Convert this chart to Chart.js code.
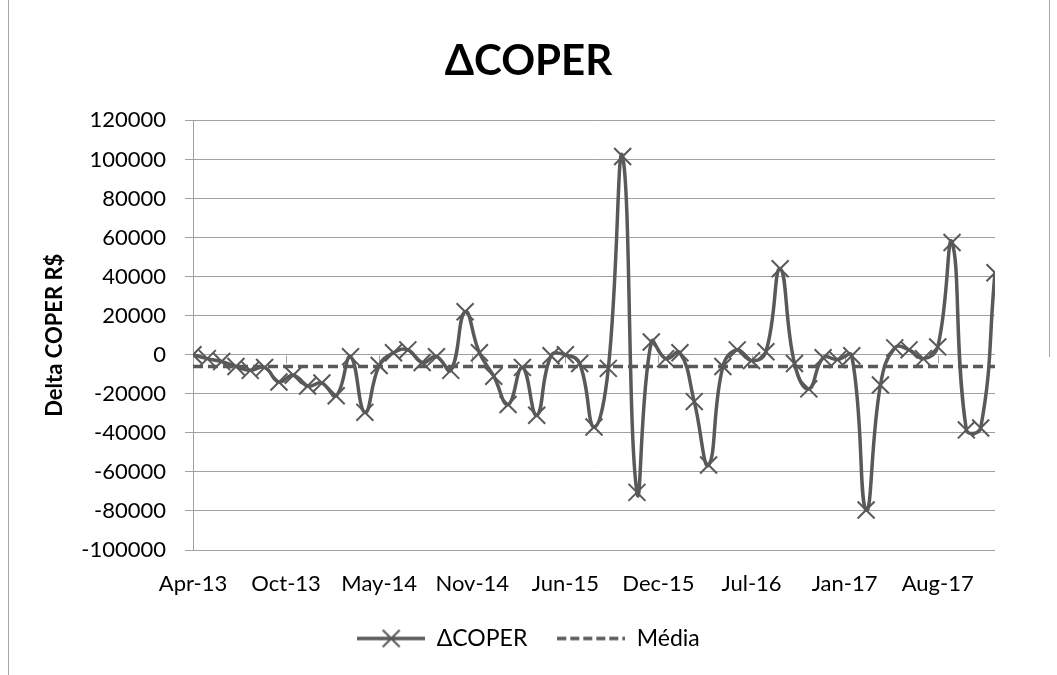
<!DOCTYPE html>
<html><head><meta charset="utf-8">
<script src="https://cdn.jsdelivr.net/npm/chart.js@4/dist/chart.umd.min.js"></script>
<style>html,body{margin:0;padding:0;background:#fff}canvas{display:block}</style>
</head><body>
<canvas id="c" width="1057" height="675"></canvas>
<script>
const months = [
 'Apr-13','May-13','Jun-13','Jul-13','Aug-13','Sep-13','Oct-13','Nov-13','Dec-13',
 'Jan-14','Feb-14','Mar-14','Apr-14','May-14','Jun-14','Jul-14','Aug-14','Sep-14','Oct-14','Nov-14','Dec-14',
 'Jan-15','Feb-15','Mar-15','Apr-15','May-15','Jun-15','Jul-15','Aug-15','Sep-15','Oct-15','Nov-15','Dec-15',
 'Jan-16','Feb-16','Mar-16','Apr-16','May-16','Jun-16','Jul-16','Aug-16','Sep-16','Oct-16','Nov-16','Dec-16',
 'Jan-17','Feb-17','Mar-17','Apr-17','May-17','Jun-17','Jul-17','Aug-17','Sep-17','Oct-17','Nov-17','Dec-17'
];
const coperValues = [
 0, -2000, -3500, -6000, -8000, -6500, -14000, -10500, -16000, -14500,
 -21000, -1000, -29500, -5500, 1000, 2500, -4000, -1000, -8000, 22000,
 1000, -11000, -25500, -6500, -31000, -500, 0, -4500, -37000, -7000,
 101500, -70500, 6500, -2000, 1000, -24000, -56500, -6000, 2500, -3000,
 1500, 44000, -4500, -17500, -1500, -2500, -500, -79500, -15500, 3500,
 2500, -2000, 4000, 57500, -38500, -37500, 42000
];
const MEDIA_VALUE = -6000;
const mediaValues = months.map(() => MEDIA_VALUE);
const tickLabels = ['Apr-13','Oct-13','May-14','Nov-14','Jun-15','Dec-15','Jul-16','Jan-17','Aug-17'];
const TICK_STEP_MONTHS = 6.5;
const yTicks = [-100000,-80000,-60000,-40000,-20000,0,20000,40000,60000,80000,100000,120000];
const seriesNames = ['\u0394COPER', 'M\u00e9dia'];

const FONT = 'Lato';
const SERIES = '#595959';
const GRID = '#a0a0a0';

function makeIcon(kind) {
  const c = document.createElement('canvas');
  c.width = 68; c.height = 24;
  const g = c.getContext('2d');
  g.strokeStyle = SERIES; g.lineWidth = 3.5;
  if (kind === 'dash') g.setLineDash([9, 4]);
  g.beginPath(); g.moveTo(0, 12); g.lineTo(68, 12); g.stroke();
  if (kind === 'cross') {
    g.setLineDash([]); g.lineWidth = 2;
    const r = 8.5, cx = 34, cy = 12;
    g.beginPath();
    g.moveTo(cx - r, cy - r); g.lineTo(cx + r, cy + r);
    g.moveTo(cx + r, cy - r); g.lineTo(cx - r, cy + r);
    g.stroke();
  }
  return c;
}
const icons = [makeIcon('cross'), makeIcon('dash')];

const framePlugin = {
  id: 'frame',
  beforeDraw(chart) {
    const ctx = chart.ctx;
    ctx.save();
    ctx.fillStyle = '#fff';
    ctx.fillRect(0, 0, chart.width, chart.height);
    ctx.strokeStyle = '#a6a6a6'; ctx.lineWidth = 1;
    ctx.beginPath();
    ctx.moveTo(8.5, 0); ctx.lineTo(8.5, chart.height);
    ctx.moveTo(1049.5, 0); ctx.lineTo(1049.5, 357);
    ctx.stroke();
    ctx.restore();
  }
};
const zeroTicksPlugin = {
  id: 'zeroTicks',
  beforeDatasetsDraw(chart) {
    const xs = chart.scales.x, ys = chart.scales.y, ctx = chart.ctx;
    const y0 = Math.round(ys.getPixelForValue(0)) + 0.5;
    ctx.save();
    ctx.strokeStyle = GRID; ctx.lineWidth = 1;
    ctx.beginPath();
    xs.ticks.forEach(t => {
      const px = Math.round(xs.getPixelForValue(t.value)) + 0.5;
      ctx.moveTo(px, y0); ctx.lineTo(px, y0 + 8);
    });
    ctx.stroke();
    ctx.restore();
  }
};

new Chart(document.getElementById('c'), {
  type: 'line',
  data: {
    datasets: [
      {
        label: seriesNames[0],
        data: coperValues.map((v, i) => ({x: i, y: v})),
        borderColor: SERIES, backgroundColor: SERIES,
        borderWidth: 3.5, tension: 0.45,
        pointStyle: 'crossRot', pointRadius: 12, pointBorderWidth: 2,
        pointBorderColor: SERIES, pointBackgroundColor: SERIES,
        order: 1
      },
      {
        label: seriesNames[1],
        data: mediaValues.map((v, i) => ({x: i, y: v})),
        borderColor: SERIES, backgroundColor: SERIES,
        borderWidth: 3.5, borderDash: [10, 5], pointRadius: 0,
        order: 0
      }
    ]
  },
  options: {
    responsive: false, animation: false,
    layout: {padding: {left: 10, right: 10, top: 0, bottom: 15}},
    plugins: {
      title: {
        display: true, text: '\u0394COPER', color: '#000',
        font: {family: FONT, size: 42, weight: 'bold'},
        padding: {top: 36, bottom: 34}
      },
      legend: {
        position: 'bottom',
        labels: {
          color: '#000', font: {family: FONT, size: 23},
          usePointStyle: true, pointStyleWidth: 68, padding: 30,
          sort: (a, b) => a.datasetIndex - b.datasetIndex,
          generateLabels(chart) {
            const items = Chart.defaults.plugins.legend.labels.generateLabels(chart);
            items.forEach(it => { it.pointStyle = icons[it.datasetIndex]; });
            return items;
          }
        }
      },
      tooltip: {enabled: false}
    },
    scales: {
      x: {
        type: 'linear', min: 0, max: months.length - 1,
        afterBuildTicks(s) { s.ticks = tickLabels.map((l, k) => ({value: k * TICK_STEP_MONTHS})); },
        ticks: {
          autoSkip: false, maxRotation: 0, color: '#000',
          font: {family: FONT, size: 22}, padding: 21,
          callback: (v, i) => tickLabels[i]
        },
        grid: {display: false, drawTicks: false},
        border: {display: false},
        afterFit(s) { s.height = 47; }
      },
      y: {
        min: yTicks[0], max: yTicks[yTicks.length - 1],
        afterBuildTicks(s) { s.ticks = yTicks.map(v => ({value: v})); },
        ticks: {color: '#000', font: {family: FONT, size: 22}, padding: 19, callback: v => String(v)},
        grid: {color: GRID, lineWidth: 1, tickLength: 8, drawTicks: true},
        border: {display: true, color: GRID, width: 1},
        title: {
          display: true, text: 'Delta COPER R$', color: '#000',
          font: {family: FONT, size: 22, weight: 'bold'},
          padding: {top: 32, bottom: 0}
        },
        afterFit(s) { s.width = 183; }
      },
      yRight: {
        position: 'right', display: true,
        ticks: {display: false}, grid: {display: false, drawTicks: false}, border: {display: false},
        afterFit(s) { s.width = 52; }
      }
    }
  },
  plugins: [framePlugin, zeroTicksPlugin]
});
</script>
</body></html>
